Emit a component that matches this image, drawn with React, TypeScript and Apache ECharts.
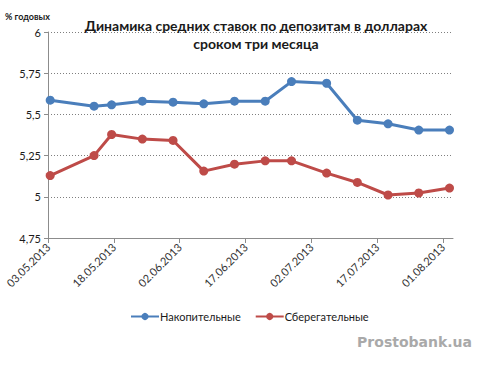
import React, { useEffect, useRef } from "react";
import * as echarts from "echarts";

const titleText = "Динамика средних ставок по депозитам в долларах\nсроком три месяца";
const yAxisTitle = "% годовых";
const watermark = "Prostobank.ua";
const startDate = "03.05.2013";
const tickLabels = ["03.05.2013", "18.05.2013", "02.06.2013", "17.06.2013", "02.07.2013", "17.07.2013", "01.08.2013"];
const pointDates = [
  "03.05.2013", "13.05.2013", "17.05.2013", "24.05.2013", "31.05.2013", "07.06.2013", "14.06.2013",
  "21.06.2013", "27.06.2013", "05.07.2013", "12.07.2013", "19.07.2013", "26.07.2013", "02.08.2013",
];
const seriesNames = ["Накопительные", "Сберегательные"];
const accumValues = [5.586, 5.55, 5.558, 5.58, 5.574, 5.564, 5.58, 5.58, 5.699, 5.689, 5.465, 5.443, 5.405, 5.405];
const savingsValues = [5.129, 5.25, 5.378, 5.35, 5.342, 5.156, 5.198, 5.218, 5.218, 5.144, 5.087, 5.011, 5.023, 5.053];
const yTicks = [4.75, 5, 5.25, 5.5, 5.75, 6];

function parseDate(s: string): number {
  const [d, m, y] = s.split(".").map(Number);
  return Date.UTC(y, m - 1, d);
}
const DAY = 86400000;
const t0 = parseDate(startDate);
const dayOf = (s: string) => (parseDate(s) - t0) / DAY;

export default function App() {
  const ref = useRef<HTMLDivElement>(null);
  useEffect(() => {
    if (!ref.current) return;
    const chart = echarts.init(ref.current, null, { renderer: "svg" });
    const tickDays = tickLabels.map(dayOf);
    const toPts = (vals: number[]) => vals.map((v, i) => [dayOf(pointDates[i]) + 0.5, v]);
    chart.setOption({
      animation: false,
      backgroundColor: "#ffffff",
      textStyle: { fontFamily: "Lato, 'Open Sans', sans-serif" },
      title: {
        text: titleText,
        left: 251,
        textAlign: "center",
        top: 11,
        textStyle: { fontSize: 14, fontWeight: "bold", color: "#1a1a1a", lineHeight: 18, fontFamily: "Lato, 'Open Sans', sans-serif" },
      },
      graphic: [
        {
          type: "text",
          left: 5,
          top: 12,
          style: { text: yAxisTitle, fontSize: 9, fontWeight: "bold", fill: "#1a1a1a", fontFamily: "Lato, 'Open Sans', sans-serif" },
        },
        {
          type: "text",
          right: 10,
          top: 335,
          style: { text: watermark, fontSize: 14, fontWeight: "bold", fill: "#a9a9a9", fontFamily: "'DejaVu Sans', sans-serif" },
        },
      ],
      legend: {
        left: 125,
        top: 306,
        itemWidth: 28,
        itemHeight: 9,
        itemGap: 14,
        textStyle: { fontSize: 11, color: "#1a1a1a", padding: [0, 0, 0, -4] },
        data: seriesNames,
      },
      grid: { left: 48, right: 29, top: 32, bottom: 127, containLabel: false },
      xAxis: {
        type: "value",
        min: 0,
        max: 92.3,
        interval: 15,
        axisLine: { show: true, lineStyle: { color: "#8c8c8c", width: 1 } },
        axisTick: { show: true, length: 5, lineStyle: { color: "#8c8c8c" }, customValues: tickDays },
        axisLabel: {
          customValues: tickDays,
          rotate: 45,
          fontSize: 11,
          color: "#333333",
          margin: 7,
          formatter: (v: number) => {
            const idx = tickDays.findIndex((d) => Math.abs(d - v) < 0.01);
            return idx >= 0 ? tickLabels[idx] : "";
          },
        },
        splitLine: { show: false },
      },
      yAxis: {
        type: "value",
        min: yTicks[0],
        max: yTicks[yTicks.length - 1],
        interval: 0.25,
        axisLine: { show: true, lineStyle: { color: "#8c8c8c", width: 1 } },
        axisTick: { show: true, length: 4, lineStyle: { color: "#8c8c8c" } },
        axisLabel: {
          fontSize: 11,
          color: "#1a1a1a",
          margin: 7,
          formatter: (v: number) => String(Number(v.toFixed(2))).replace(".", ","),
        },
        splitLine: { show: true, lineStyle: { color: "#7f7f7f", type: [1, 2], width: 1 } },
      },
      series: [
        {
          name: seriesNames[0],
          type: "line",
          data: toPts(accumValues),
          symbol: "circle",
          symbolSize: 9,
          itemStyle: { color: "#4A7EBB" },
          lineStyle: { color: "#4A7EBB", width: 3 },
        },
        {
          name: seriesNames[1],
          type: "line",
          data: toPts(savingsValues),
          symbol: "circle",
          symbolSize: 9,
          itemStyle: { color: "#BE4B48" },
          lineStyle: { color: "#BE4B48", width: 3 },
        },
      ],
    });
    return () => chart.dispose();
  }, []);
  return <div ref={ref} style={{ position: "fixed", left: 0, top: 0, width: 482, height: 365 }} />;
}
